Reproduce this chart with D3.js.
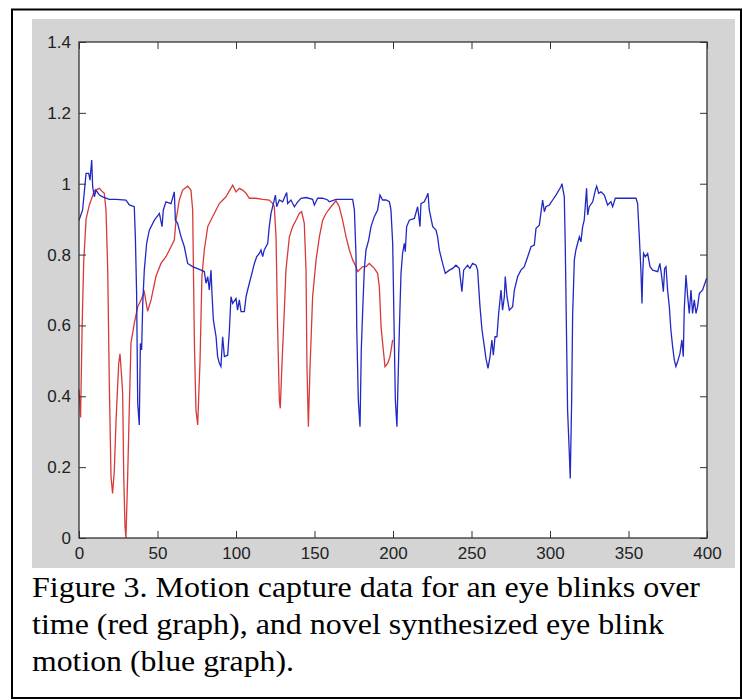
<!DOCTYPE html>
<html lang="en">
  <head>
    <meta charset="utf-8" />
    <title>Eye blink motion</title>
    <script src="https://d3js.org/d3.v7.min.js"></script>
    <style>
      html, body { margin: 0; padding: 0; background: #fff; }
      svg { display: block; }
      .tick text { font-family: "Liberation Sans", Arial, sans-serif; fill: #222; }
    </style>
  </head>
  <body>
    <div id="graph"></div>
    <script>
      // red graph: motion capture data (time, value)
      const redT = [0, 1, 2, 3, 4.5, 6.6, 9.8, 13, 15, 16.1, 17.2, 18.3, 19.3, 20.4, 21.4, 22.5, 23.6, 25.3, 26.1, 27, 27.8, 28.5, 29.3, 29.9, 31, 32, 33.1, 35.2, 37.4, 39.5, 41.6, 43.7, 45.9, 49, 52.2, 55.4, 58.6, 60.7, 61.8, 63.9, 66, 69.2, 71.3, 72.4, 73.5, 74.5, 75.6, 77.1, 78.3, 79.8, 82, 85.1, 89.4, 93.6, 97.9, 100, 102.1, 104.2, 106.4, 108.5, 112.7, 117, 121.2, 123.4, 124.4, 125.5, 126.5, 127.6, 128.2, 129.3, 130.8, 131.8, 134, 136.1, 138.2, 140.3, 141.8, 143.5, 144.6, 145.2, 146.1, 147.1, 148.8, 151, 153.1, 155.2, 157.3, 160.5, 163.7, 165.8, 167.9, 170.1, 172.2, 174.3, 176.4, 177.5, 180.7, 182.8, 184.9, 188.1, 190.2, 191.3, 192.4, 193.4, 194.9, 196.6, 198.1, 199.8];
      const redV = [0.42, 0.34, 0.6, 0.78, 0.9, 0.94, 0.98, 0.987, 0.977, 0.973, 0.926, 0.756, 0.437, 0.173, 0.126, 0.19, 0.333, 0.493, 0.52, 0.465, 0.41, 0.173, 0.032, 0.0, 0.173, 0.36, 0.55, 0.606, 0.653, 0.672, 0.695, 0.64, 0.672, 0.738, 0.775, 0.794, 0.822, 0.841, 0.897, 0.954, 0.982, 0.993, 0.982, 0.926, 0.55, 0.361, 0.319, 0.502, 0.738, 0.813, 0.879, 0.907, 0.944, 0.963, 0.996, 0.977, 0.987, 0.982, 0.973, 0.959, 0.959, 0.956, 0.954, 0.944, 0.935, 0.85, 0.596, 0.389, 0.366, 0.493, 0.643, 0.756, 0.85, 0.879, 0.897, 0.916, 0.921, 0.888, 0.756, 0.484, 0.314, 0.474, 0.681, 0.785, 0.85, 0.897, 0.916, 0.935, 0.952, 0.935, 0.897, 0.85, 0.813, 0.785, 0.766, 0.752, 0.766, 0.766, 0.775, 0.761, 0.747, 0.709, 0.596, 0.55, 0.484, 0.493, 0.512, 0.559];

      // blue graph: synthesized motion (time, value)
      const blueT = [0, 2.3, 4.5, 6.2, 7, 8.1, 8.7, 9.8, 10.8, 13, 15.1, 19.3, 23.6, 29.9, 32.1, 35.2, 35.9, 36.7, 37.4, 38.4, 39.1, 39.9, 40.6, 41.6, 43.1, 44.8, 48, 51.2, 52.9, 53.7, 55.4, 58.6, 60.7, 61.4, 62.8, 65, 67.1, 69.2, 72.4, 76.6, 79.8, 80.9, 82, 83, 84.1, 84.7, 85.6, 87.3, 88.3, 89.4, 90.4, 91.5, 92.6, 94.7, 95.8, 96.8, 97.9, 100, 101, 102.1, 103.2, 105.3, 106.4, 107.4, 108.5, 109.6, 111.7, 113.2, 114.9, 115.9, 117, 118, 120.2, 121.2, 122.3, 123.8, 125.1, 125.9, 127.6, 129.7, 132.3, 132.9, 135, 137.2, 139.3, 141.4, 144.6, 148.8, 149.9, 152, 155.2, 158.4, 159.4, 163.7, 174.3, 175.4, 176.4, 176.9, 177.9, 179, 179.8, 180.7, 181.7, 182.8, 184.5, 186, 188.1, 190.2, 191.7, 193.4, 195.5, 197.7, 198.7, 199.8, 200.8, 201.5, 202.5, 203.6, 204.4, 205.1, 206.1, 207.2, 207.8, 208.7, 210.4, 213.6, 215.7, 217.2, 217.8, 219.9, 221.4, 222.3, 223.1, 225.3, 227.4, 228.4, 229.5, 231.6, 233.3, 235.9, 238, 240.1, 242.2, 243.9, 245, 247.5, 249, 250.7, 252.9, 253.9, 255.4, 256.7, 258.2, 259.2, 260.5, 261.8, 263, 263.9, 265, 266.2, 267.3, 268.8, 269.8, 270.9, 271.5, 272.6, 274.1, 276.2, 277.3, 279.4, 281.5, 283.6, 285.8, 287.9, 290, 291.1, 293.2, 295.3, 296.4, 297.4, 299.6, 301.7, 303.8, 307, 307.6, 309.1, 309.7, 310.6, 311.2, 312.3, 312.9, 313.8, 314.4, 315.5, 316.5, 317.6, 318.7, 319.7, 320.8, 321.8, 323.3, 324, 325, 327.2, 328.9, 329.7, 331, 332.5, 334.6, 336.7, 338.8, 339.9, 341.6, 354.8, 355.8, 356.9, 357.9, 358.6, 359, 359.6, 360.7, 362.2, 363.7, 365.4, 368.6, 370, 371.3, 372.2, 373, 373.9, 374.9, 376, 377, 378.1, 379.2, 380.2, 381.3, 382.8, 384, 384.9, 385.5, 386.6, 387.7, 388.7, 389.8, 390.8, 391.9, 393, 394, 395.1, 397.2, 399.8];
      const blueV = [0.897, 0.926, 1.029, 1.029, 1.01, 1.067, 0.992, 0.963, 0.982, 0.968, 0.963, 0.956, 0.956, 0.954, 0.94, 0.935, 0.85, 0.69, 0.38, 0.319, 0.549, 0.531, 0.662, 0.756, 0.832, 0.869, 0.897, 0.916, 0.879, 0.926, 0.949, 0.944, 0.977, 0.897, 0.888, 0.85, 0.822, 0.775, 0.766, 0.758, 0.752, 0.719, 0.738, 0.7, 0.756, 0.69, 0.615, 0.568, 0.512, 0.493, 0.484, 0.568, 0.512, 0.516, 0.587, 0.681, 0.662, 0.676, 0.643, 0.672, 0.639, 0.639, 0.681, 0.7, 0.719, 0.738, 0.775, 0.794, 0.803, 0.813, 0.794, 0.813, 0.832, 0.879, 0.916, 0.944, 0.968, 0.935, 0.954, 0.949, 0.975, 0.944, 0.954, 0.935, 0.949, 0.959, 0.961, 0.956, 0.94, 0.959, 0.959, 0.954, 0.949, 0.956, 0.956, 0.926, 0.803, 0.596, 0.389, 0.314, 0.531, 0.643, 0.756, 0.813, 0.841, 0.879, 0.907, 0.926, 0.968, 0.954, 0.954, 0.949, 0.926, 0.832, 0.568, 0.389, 0.314, 0.512, 0.643, 0.747, 0.803, 0.832, 0.808, 0.879, 0.897, 0.902, 0.935, 0.879, 0.944, 0.949, 0.963, 0.973, 0.926, 0.879, 0.869, 0.85, 0.813, 0.775, 0.747, 0.756, 0.761, 0.77, 0.761, 0.695, 0.756, 0.77, 0.761, 0.775, 0.77, 0.756, 0.653, 0.587, 0.54, 0.507, 0.479, 0.512, 0.559, 0.516, 0.568, 0.568, 0.634, 0.7, 0.643, 0.681, 0.738, 0.681, 0.643, 0.653, 0.7, 0.738, 0.756, 0.766, 0.794, 0.822, 0.827, 0.874, 0.883, 0.954, 0.921, 0.935, 0.94, 0.954, 0.968, 0.992, 1.0, 0.963, 0.832, 0.549, 0.361, 0.239, 0.168, 0.389, 0.625, 0.785, 0.813, 0.832, 0.85, 0.836, 0.879, 0.897, 0.987, 0.912, 0.935, 0.949, 0.982, 0.993, 0.973, 0.977, 0.968, 0.94, 0.949, 0.935, 0.959, 0.959, 0.944, 0.85, 0.756, 0.662, 0.738, 0.803, 0.794, 0.803, 0.766, 0.756, 0.752, 0.775, 0.733, 0.695, 0.761, 0.766, 0.7, 0.653, 0.587, 0.54, 0.502, 0.484, 0.498, 0.521, 0.559, 0.512, 0.643, 0.742, 0.681, 0.634, 0.7, 0.634, 0.672, 0.634, 0.653, 0.69, 0.7, 0.733];

      const xTicks = [0, 50, 100, 150, 200, 250, 300, 350, 400];
      const yTicks = [0, 0.2, 0.4, 0.6, 0.8, 1, 1.2, 1.4];
      const captionLines = [
        "Figure 3. Motion capture data for an eye blinks over",
        "time (red graph), and novel synthesized eye blink",
        "motion (blue graph).",
      ];

      const cW = 743,
        cH = 700,
        cLeft = 79,
        cRight = 707,
        cTop = 42,
        cBottom = 538,
        cTick = 7;

      const svg = d3
        .select("#graph")
        .append("svg")
        .attr("width", cW)
        .attr("height", cH);

      //frame and grey figure background
      svg
        .append("rect")
        .attr("x", 12)
        .attr("y", 9.5)
        .attr("width", 729)
        .attr("height", 688.5)
        .attr("fill", "#fff")
        .attr("stroke", "#000")
        .attr("stroke-width", 2);
      svg
        .append("rect")
        .attr("x", 32)
        .attr("y", 19)
        .attr("width", 703)
        .attr("height", 549)
        .attr("fill", "#d4d4d4");
      svg
        .append("rect")
        .attr("x", cLeft)
        .attr("y", cTop)
        .attr("width", cRight - cLeft)
        .attr("height", cBottom - cTop)
        .attr("fill", "#fff");

      const xScale = d3.scaleLinear().domain([0, 400]).range([cLeft, cRight]);
      const yScale = d3.scaleLinear().domain([0, 1.4]).range([cBottom, cTop]);

      //lines
      const line = d3
        .line()
        .x((d) => xScale(d[0]))
        .y((d) => yScale(d[1]));
      svg
        .append("path")
        .datum(redT.map((t, i) => [t, redV[i]]))
        .attr("d", line)
        .attr("fill", "none")
        .attr("stroke", "#d83a3a")
        .attr("stroke-width", 1.3);
      svg
        .append("path")
        .datum(blueT.map((t, i) => [t, blueV[i]]))
        .attr("d", line)
        .attr("fill", "none")
        .attr("stroke", "#2228c4")
        .attr("stroke-width", 1.3);

      //axes, ticks pointing inwards on all four sides
      const fmt = (d) => (d === 0 || d === 1 ? String(d) : d3.format(".1f")(d));
      const axes = [
        [d3.axisBottom(xScale).tickValues(xTicks).tickFormat(d3.format("d")), `translate(0,${cBottom})`],
        [d3.axisTop(xScale).tickValues(xTicks).tickFormat(""), `translate(0,${cTop})`],
        [d3.axisLeft(yScale).tickValues(yTicks).tickFormat(fmt), `translate(${cLeft},0)`],
        [d3.axisRight(yScale).tickValues(yTicks).tickFormat(""), `translate(${cRight},0)`],
      ];
      axes.forEach(([axis, tr], k) => {
        const g = svg
          .append("g")
          .attr("transform", tr)
          .call(axis.tickSizeInner(-cTick).tickSizeOuter(0).tickPadding(k === 0 ? 9 : 8));
        g.selectAll(".tick line").attr("stroke", "#333");
        g.select(".domain").remove();
        g.selectAll(".tick text").attr("font-size", 17);
      });

      svg
        .append("rect")
        .attr("x", cLeft)
        .attr("y", cTop)
        .attr("width", cRight - cLeft)
        .attr("height", cBottom - cTop)
        .attr("fill", "none")
        .attr("stroke", "#333")
        .attr("stroke-width", 1.3);

      //caption, stretched to the width of the original lines
      const captionWidths = [668, 632, 262];
      svg
        .append("g")
        .selectAll("text")
        .data(captionLines)
        .enter()
        .append("text")
        .attr("x", 32)
        .attr("y", (d, i) => 597 + i * 37)
        .attr("font-family", "'Liberation Serif', 'Times New Roman', serif")
        .attr("font-size", 29)
        .attr("textLength", (d, i) => captionWidths[i])
        .attr("lengthAdjust", "spacingAndGlyphs")
        .attr("fill", "#000")
        .text((d) => d);
    </script>
  </body>
</html>
